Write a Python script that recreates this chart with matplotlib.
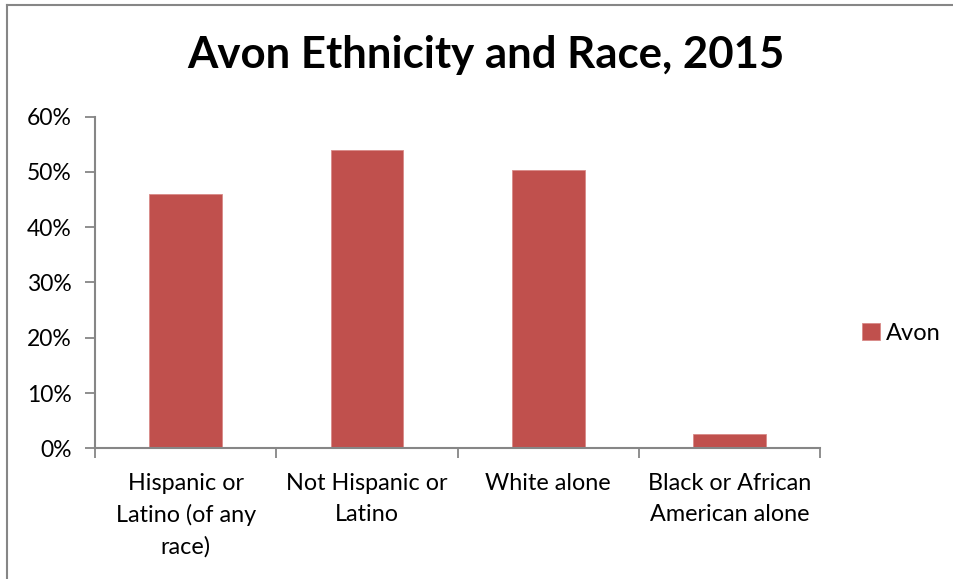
import matplotlib
matplotlib.use("Agg")
import matplotlib.pyplot as plt
from matplotlib.lines import Line2D
from matplotlib.ticker import FuncFormatter, FixedLocator

categories = ["Hispanic or\nLatino (of any\nrace)", "Not Hispanic or\nLatino",
              "White alone", "Black or African\nAmerican alone"]
values = [0.460, 0.539, 0.503, 0.026]
series_name = "Avon"
title = "Avon Ethnicity and Race, 2015"
y_ticks = [0.0, 0.1, 0.2, 0.3, 0.4, 0.5, 0.6]

plt.rcParams["font.family"] = ["Lato", "DejaVu Sans"]

W, H = 954, 579
fig = plt.figure(figsize=(W / 100, H / 100), dpi=100)
fig.patch.set_facecolor("white")

ax = fig.add_axes([95 / W, 1 - 448.3 / H, (820.3 - 95) / W, (448.3 - 116.5) / H])
x = list(range(len(categories)))
ax.bar(x, values, width=0.4, color="#C0504D", edgecolor="#D88A88", linewidth=0.6,
       label=series_name, zorder=2)

ax.set_xlim(-0.5, len(categories) - 0.5)
ax.set_ylim(0, 0.6)
ax.yaxis.set_major_locator(FixedLocator(y_ticks))
ax.yaxis.set_major_formatter(FuncFormatter(lambda v, p: f"{v * 100:.0f}%"))

ax.set_xticks(x)
ax.set_xticklabels(categories, fontsize=16.8, linespacing=1.55, va="top")
ax.set_xticks([i - 0.5 for i in range(len(categories) + 1)], minor=True)
ax.tick_params(axis="x", which="major", length=0, pad=18)
ax.tick_params(axis="x", which="minor", length=7, width=1.3, color="#868686")
ax.tick_params(axis="y", which="major", length=7, width=1.3, color="#868686",
               labelsize=16.5, pad=10)

for s in ("top", "right"):
    ax.spines[s].set_visible(False)
for s in ("left", "bottom"):
    ax.spines[s].set_color("#868686")
    ax.spines[s].set_linewidth(1.5)

fig.text(486 / W, 1 - 55 / H, title, ha="center", va="center", fontsize=31.5,
         fontweight="bold")

leg = fig.legend(loc="center left", bbox_to_anchor=(862 / W, 1 - 333 / H),
                 frameon=False, fontsize=17, handlelength=0.75, handleheight=0.75,
                 handletextpad=0.25, borderpad=0, borderaxespad=0)

# chart area frame (top and left edges)
fig.add_artist(Line2D([7 / W, 1.0], [1 - 4.7 / H, 1 - 4.7 / H],
                      transform=fig.transFigure, color="#868686", linewidth=1.5))
fig.add_artist(Line2D([7 / W, 7 / W], [0.0, 1 - 4.7 / H],
                      transform=fig.transFigure, color="#868686", linewidth=1.5))

fig.savefig("out.png", dpi=100)
